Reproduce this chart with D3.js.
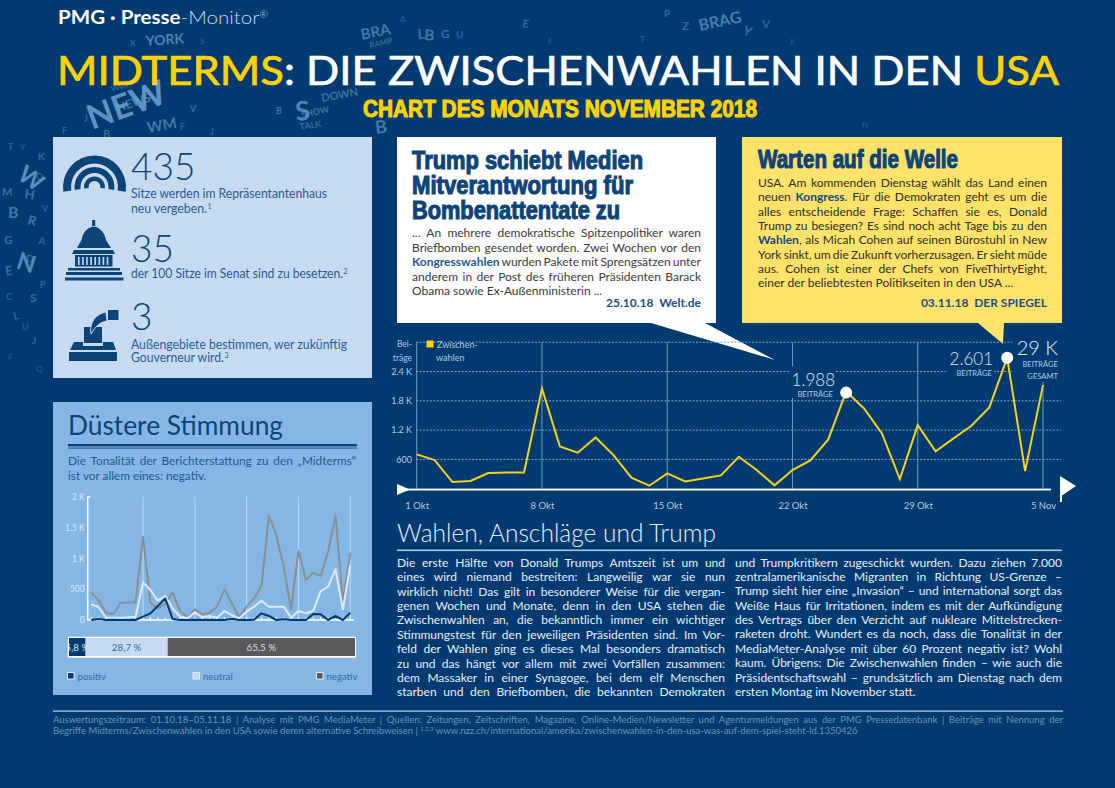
<!DOCTYPE html>
<html lang="de"><head><meta charset="utf-8">
<script src="https://cdn.jsdelivr.net/npm/d3@7"></script>
<style>html,body{margin:0;padding:0;background:#003a70;overflow:hidden}svg{display:block}text{font-family:Lato,"Open Sans",sans-serif}</style>
</head><body><svg id="c" width="1115" height="788"></svg>
<script>
// ---- data ----
const days = d3.range(36);
const totalPosts = [702,586,136,157,320,334,334,2053,866,737,1050,689,225,61,314,150,211,273,655,382,68,382,580,1009,1988,1644,1132,198,1303,764,1030,1289,1664,2680,361,2121];
const negative = [449,324,108,97,281,281,286,1351,281,189,270,449,146,43,173,92,119,216,497,270,43,216,351,551,1686,1378,865,173,1124,649,768,714,1108,1686,297,1092];
const neutral = [254,211,38,38,38,43,54,611,486,313,389,189,54,27,124,43,65,38,146,81,27,135,216,313,216,216,216,38,146,108,151,470,540,822,173,892];
const positive = [0,16,0,5,0,0,0,54,108,227,351,16,0,0,5,0,0,0,0,16,0,0,5,108,65,0,11,0,0,0,97,92,0,65,0,119];
const xTickDays = [0,7,14,21,28,35];
const xTickLabels = ["1 Okt","8 Okt","15 Okt","22 Okt","29 Okt","5 Nov"];
const yTicksMain = [600,1200,1800,2400,3000];
const yTickLabelsMain = ["600","1.2 K","1.8 K","2.4 K",""];
const yTicksTone = [0,500,1000,1500,2000];
const yTickLabelsTone = ["0","500","1 K","1.5 K","2 K"];
const shareNames = ["positiv","neutral","negativ"];
const shareValues = [5.8,28.7,65.5];
const shareLabels = ["5,8 %","28,7 %","65,5 %"];
const peakDays = [24,33];
const peakLabels = ["1.988","2.601"];

const bodyLeft = ["Die erste Hälfte von Donald Trumps Amtszeit ist um und","eines wird niemand bestreiten: Langweilig war sie nun","wirklich nicht! Das gilt in besonderer Weise für die vergan-","genen Wochen und Monate, denn in den USA stehen die","Zwischenwahlen an, die bekanntlich immer ein wichtiger","Stimmungstest für den jeweiligen Präsidenten sind. Im Vor-","feld der Wahlen ging es dieses Mal besonders dramatisch","zu und das hängt vor allem mit zwei Vorfällen zusammen:","dem Massaker in einer Synagoge, bei dem elf Menschen","starben und den Briefbomben, die bekannten Demokraten"];
const bodyRight = ["und Trumpkritikern zugeschickt wurden. Dazu ziehen 7.000","zentralamerikanische Migranten in Richtung US-Grenze –","Trump sieht hier eine „Invasion“ – und international sorgt das","Weiße Haus für Irritationen, indem es mit der Aufkündigung","des Vertrags über den Verzicht auf nukleare Mittelstrecken-","raketen droht. Wundert es da noch, dass die Tonalität in der","MediaMeter-Analyse mit über 60 Prozent negativ ist? Wohl","kaum. Übrigens: Die Zwischenwahlen finden – wie auch die","Präsidentschaftswahl – grundsätzlich am Dienstag nach dem","ersten Montag im November statt."];
const whiteBox = ["... An mehrere demokratische Spitzenpolitiker waren","Briefbomben gesendet worden. Zwei Wochen vor den","**Kongresswahlen** wurden Pakete mit Sprengsätzen unter","anderem in der Post des früheren Präsidenten Barack","Obama sowie Ex-Außenministerin ..."];
const yellowBox = ["USA. Am kommenden Dienstag wählt das Land einen","neuen **Kongress**. Für die Demokraten geht es um die","alles entscheidende Frage: Schaffen sie es, Donald","Trump zu besiegen? Es sind noch acht Tage bis zu den","**Wahlen**, als Micah Cohen auf seinen Bürostuhl in New","York sinkt, um die Zukunft vorherzusagen. Er sieht müde","aus. Cohen ist einer der Chefs von FiveThirtyEight,","einer der beliebtesten Politikseiten in den USA ..."];

// decorative scattered press letters in the page background
const scatter = [["YORK",146,46,14,-4,.7],["X",130,46,8,0,.45],["S",200,44,8,0,.35],["NEW",92,130,34,-20,.85],["NEWS",118,112,12,-18,.6],["WORLD",112,92,8,-20,.45],["B",103,138,11,0,.5],["J",84,122,9,0,.5],["WM",148,133,15,-10,.6],["S",296,121,27,-5,.7],["SHOW",302,118,9,-12,.55],["DOWN",322,102,11,-10,.55],["TALK",300,130,9,-8,.5],["B",276,114,9,0,.55],["V",190,112,9,0,.45],["F",180,130,9,0,.4],["F",62,134,9,0,.4],["J",210,135,9,0,.4],["BRA",362,40,15,-12,.6],["RAMP",370,48,8,-12,.45],["B",376,134,18,-8,.6],["L",418,39,14,-5,.55],["B",424,40,15,5,.6],["G",441,38,12,0,.5],["U",456,38,10,0,.4],["A",400,22,8,0,.35],["E",522,27,11,10,.45],["F",548,44,8,0,.3],["BRAG",700,31,16,-12,.65],["Z",682,30,12,0,.45],["Y",742,34,13,20,.55],["V",762,28,12,0,.4],["P",664,17,10,0,.45],["T",640,42,8,0,.35],["K",790,45,8,0,.3],["N",862,128,8,0,.3],["NEWS",150,134,0,0,0],
["W",16,178,24,35,.8],["N",15,268,24,18,.75],["B",8,218,16,0,.6],["R",27,224,13,15,.6],["E",6,276,13,-10,.5],["K",38,160,10,0,.45],["S",30,302,12,0,.5],["L",14,320,11,-10,.45],["J",32,344,10,0,.45],["T",8,150,9,0,.45],["H",24,198,13,10,.55],["G",4,244,12,0,.5],["A",38,244,10,10,.45],["M",2,196,11,0,.5],["O",36,180,9,0,.45],["D",26,262,10,0,.45],["P",40,288,9,0,.4],["C",6,300,9,0,.4],["U",22,330,9,0,.35],["V",42,212,9,0,.4],["Y",20,150,8,0,.35],["F",8,360,8,0,.3],["Q",36,372,8,0,.3]];

// ---- palette ----
const navy="#003a70", panelLight="#c6daf2", panelBlue="#85b6e4", yellow="#ffe26a", gold="#ffd200", lineGold="#f2d31b", ink="#0d4478", axisTxt="#b4cbe3";

const svg=d3.select("#c");
svg.append("rect").attr("width",1115).attr("height",788).attr("fill",navy);

// background letters
svg.append("g").selectAll("text").data(scatter.filter(d=>d[3]>0)).join("text")
  .attr("transform",d=>`translate(${d[1]},${d[2]}) rotate(${d[4]})`)
  .attr("font-size",d=>d[3]).attr("font-weight",700).attr("fill","#6ea3cf").attr("opacity",d=>d[5]).text(d=>d[0]);

// helpers
function label(sel,x,y,t,o={}){
  const n=sel.append("text").attr("x",x).attr("y",y).attr("font-size",o.size||12).attr("fill",o.fill||"#fff")
    .attr("font-weight",o.weight||400).attr("text-anchor",o.anchor||"start");
  if(o.family)n.style("font-family",o.family);
  if(o.stroke)n.attr("stroke",o.stroke).attr("stroke-width",o.sw||.5);
  if(o.len)n.attr("textLength",o.len).attr("lengthAdjust","spacingAndGlyphs");
  if(t!=null)n.text(t);
  return n;
}
function justified(lines,x,y0,lh,width,o,lastFree){
  lines.forEach((ln,i)=>{
    const n=label(svg,x,y0+i*lh,null,o);
    ln.split(/(\*\*[^*]+\*\*)/).filter(Boolean).forEach(p=>{
      const bold=p.startsWith("**");
      const ts=n.append("tspan").text(bold?p.slice(2,-2):p);
      if(bold)ts.attr("font-weight",700).attr("fill",o.boldFill);
    });
    if(!(lastFree&&i===lines.length-1)){
      const gaps=(ln.match(/ /g)||[]).length, len=n.node().getComputedTextLength();
      if(gaps)n.style("word-spacing",((width-len)/gaps)+"px");
    }
  });
}
const heavy='"Liberation Sans Narrow","Liberation Sans",sans-serif';

// ---- header ----
const brand=label(svg,58,24,null,{size:18.5,weight:700,len:210});
brand.append("tspan").text("PMG · Presse");
brand.append("tspan").attr("font-weight",300).attr("fill","#c6daf2").text("-Monitor");
brand.append("tspan").attr("font-size",9).attr("dy",-6).attr("font-weight",300).attr("fill","#c6daf2").text("®");
const ttl=label(svg,57,85,null,{size:40,weight:400,len:1002});
ttl.append("tspan").attr("fill",gold).attr("stroke",gold).attr("stroke-width",.7).text("MIDTERMS");
ttl.append("tspan").attr("stroke","#fff").attr("stroke-width",.7).text(": DIE ZWISCHENWAHLEN IN DEN ");
ttl.append("tspan").attr("fill",gold).attr("stroke",gold).attr("stroke-width",.7).text("USA");
label(svg,363,117,"CHART DES MONATS NOVEMBER 2018",{size:23,weight:700,fill:gold,family:heavy,stroke:gold,sw:1.1,len:394});

// ---- key figures panel ----
svg.append("rect").attr("x",53).attr("y",137).attr("width",319).attr("height",241).attr("fill",panelLight);
const big={size:37,weight:300,fill:ink}, small={size:12.4,fill:"#2b5c8d"}, sup={size:7,fill:"#2b5c8d"};
label(svg,131,180,"435",big);
label(svg,131,198,"Sitze werden im Repräsentantenhaus",{...small,len:196});
label(svg,131,213,"neu vergeben.",{...small,len:76});
label(svg,207.5,209,"1",sup);
label(svg,131,262,"35",big);
label(svg,131,278,"der 100 Sitze im Senat sind zu besetzen.",{...small,len:212});
label(svg,343.5,274,"2",sup);
label(svg,131,330,"3",big);
label(svg,131,349,"Außengebiete bestimmen, wer zukünftig",{...small,len:216});
label(svg,131,362,"Gouverneur wird.",{...small,len:93});
label(svg,224.5,358,"3",sup);

// icons
const ic=svg.append("g").attr("fill",ink);
const arcGen=d3.arc().startAngle(-1.72).endAngle(1.72);
[[23.5,31.5],[14,20],[6,10.5]].forEach(r=>ic.append("path").attr("transform","translate(94.5,187)")
  .attr("d",arcGen({innerRadius:r[0],outerRadius:r[1]})));
ic.append("path").attr("d","M92.2,220h3v7h-3zM77,248H111L106,240Q104,229 93.7,226Q83,229 81.5,240ZM74,250H113L115,254H72ZM75,255H112.5V266.5H75ZM68,268H120V270.5H68ZM66,272H122V275H66ZM65,277.5H123.5V280.5H65Z");
const gaps=ic.append("g").attr("fill",panelLight);
d3.range(8).forEach(i=>gaps.append("rect").attr("x",78+i*4.1).attr("y",257).attr("width",1.6).attr("height",8));
ic.append("path").attr("d","M108,310H118.5V320H108ZM69,352H117V361H69ZM74,342H83V346H103V342H113L116,350H70ZM84,327H102V343H84Z");
ic.append("path").attr("d","M91,334C89,322 96,314 106,312L107,321C100,322 96,326 91,334Z").attr("stroke",panelLight).attr("stroke-width",1);

// ---- tone panel ----
svg.append("rect").attr("x",53).attr("y",402).attr("width",319).attr("height",293).attr("fill",panelBlue);
label(svg,68,435,"Düstere Stimmung",{size:27,fill:ink,len:215});
svg.append("rect").attr("x",68).attr("y",444).attr("width",289).attr("height",2.4).attr("fill",ink);
svg.append("rect").attr("x",68).attr("y",447.6).attr("width",289).attr("height",.9).attr("fill",ink);
justified(["Die Tonalität der Berichterstattung zu den „Midterms“"],68,465,15,288,{size:11.8,fill:"#1c5a94"});
label(svg,68,480,"ist vor allem eines: negativ.",{size:11.8,fill:"#1c5a94"});

const xTone=d3.scaleLinear().domain([0,35]).range([91.2,350.3]);
const yTone=d3.scaleLinear().domain([0,2000]).range([620,496.7]);
const tone=svg.append("g");
tone.selectAll("line.g").data(xTickDays.slice(1)).join("line").attr("x1",xTone).attr("x2",xTone).attr("y1",496.7).attr("y2",620).attr("stroke","#b9d4ee").attr("stroke-width",1.2);
const axL=tone.append("g").attr("transform","translate(87.7,0)").call(d3.axisLeft(yTone).tickValues(yTicksTone).tickSize(0).tickFormat((d,i)=>yTickLabelsTone[i]));
axL.select(".domain").remove();
axL.selectAll("text").attr("fill","#d9e8f7").attr("font-size",8.5).attr("x",-3);
tone.append("path").attr("d",`M90.5,497H87.7V620H354`).attr("fill","none").attr("stroke","#fff").attr("stroke-width",1.4);
tone.append("g").selectAll("line").data(days).join("line").attr("x1",xTone).attr("x2",xTone).attr("y1",620).attr("y2",617).attr("stroke","#fff").attr("stroke-width",1);
const lineTone=d3.line().x((d,i)=>xTone(i)).y(d=>yTone(d));
[[negative,"#8a9095"],[neutral,"#dcebf9"],[positive,navy]].forEach(s=>tone.append("path").attr("d",lineTone(s[0])).attr("fill","none").attr("stroke",s[1]).attr("stroke-width",2).attr("stroke-linejoin","round"));

// stacked share bar
const xShare=d3.scaleLinear().domain([0,100]).range([69,355]);
const shareCol=[navy,panelLight,"#58595b"], shareTxt=["#dce9f6","#3a6ea3","#d9dde2"];
svg.append("rect").attr("x",67.7).attr("y",636.7).attr("width",288.3).attr("height",21).attr("fill","#fff");
const starts=d3.cumsum([0,...shareValues]);
svg.append("clipPath").attr("id","bar").append("rect").attr("x",69).attr("y",638).attr("width",286).attr("height",18);
const sg=svg.append("g").attr("clip-path","url(#bar)");
shareValues.forEach((v,i)=>{
  sg.append("rect").attr("x",xShare(starts[i])).attr("y",638).attr("width",xShare(v)-xShare(0)).attr("height",18).attr("fill",shareCol[i]);
  label(sg,xShare(starts[i]+v/2),650.5,shareLabels[i],{size:9.8,fill:shareTxt[i],anchor:"middle"});
});
const legX=[70.5,196,319.5];
shareNames.forEach((n,i)=>{
  svg.append("rect").attr("x",legX[i]-3).attr("y",672.5).attr("width",6.5).attr("height",6.5).attr("fill",shareCol[i]).attr("stroke","#dce9f6").attr("stroke-width",1);
  label(svg,legX[i]+7,679.5,n,{size:9.6,fill:"#2f6aa5"});
});

// ---- speech boxes ----
svg.append("path").attr("d","M397,137H716V323H705L775,360L651,323H397Z").attr("fill","#fff");
svg.append("path").attr("d","M742,137H1062V323H1004L1003,344L978,323H742Z").attr("fill",yellow);
const hd={size:25,weight:700,fill:ink,family:heavy,stroke:ink,sw:1.1};
label(svg,412,169,"Trump schiebt Medien",{...hd,len:231});
label(svg,412,194,"Mitverantwortung für",{...hd,len:221});
label(svg,412,219,"Bombenattentate zu",{...hd,len:208});
label(svg,758,168,"Warten auf die Welle",{...hd,len:200});
justified(whiteBox,412,237,14.5,289,{size:12,fill:"#3a3a3a",boldFill:"#1c5a94"},true);
justified(yellowBox,758,187,14.3,289,{size:12,fill:"#2e2e24",boldFill:"#14497e"},true);
label(svg,701,307,"25.10.18  Welt.de",{size:12,weight:700,fill:"#1c4f80",anchor:"end"}).style("white-space","pre");
label(svg,1047,307,"03.11.18  DER SPIEGEL",{size:12,weight:700,fill:"#1c4f80",anchor:"end"}).style("white-space","pre");

// ---- main line chart ----
const x=d3.scaleLinear().domain([0,35]).range([416.7,1043]);
const y=d3.scaleLinear().domain([0,3000]).range([488.7,342.2]);
const main=svg.append("g");
main.append("g").selectAll("line").data(yTicksMain).join("line").attr("x1",416).attr("x2",1061).attr("y1",y).attr("y2",y)
  .attr("stroke","#7ea4c9").attr("stroke-width",1).attr("stroke-dasharray","2 1.5");
main.append("g").selectAll("line").data(xTickDays).join("line").attr("x1",x).attr("x2",x).attr("y1",342.2).attr("y2",488.7)
  .attr("stroke","#6f9ac4").attr("stroke-width",1);
// clear the gridlines behind the annotations
[[790,366,46,32],[948,345,46,33],[1012,340,50,42]].forEach(r=>main.append("rect").attr("x",r[0]).attr("y",r[1]).attr("width",r[2]).attr("height",r[3]).attr("fill",navy));
const ayl=main.append("g").attr("transform","translate(412,0)").call(d3.axisLeft(y).tickValues(yTicksMain).tickSize(0).tickFormat((d,i)=>yTickLabelsMain[i]));
ayl.select(".domain").remove();
ayl.selectAll("text").attr("fill",axisTxt).attr("font-size",9).attr("x",0);
const axb=main.append("g").attr("transform","translate(0,489.7)").call(d3.axisBottom(x).tickValues(xTickDays).tickSize(0).tickFormat((d,i)=>xTickLabels[i]));
axb.select(".domain").remove();
axb.selectAll("text").attr("fill",axisTxt).attr("font-size",9.5).attr("y",13);
main.append("rect").attr("x",405).attr("y",488.6).attr("width",646).attr("height",1.9).attr("fill","#fff");
main.append("path").attr("d","M397,484L410,489.5L397,495Z").attr("fill","#fff");
main.append("path").attr("d","M1060,476V502H1062V495.5L1076,486Z").attr("fill","#fff");
main.append("path").attr("d",d3.line().x((d,i)=>x(i)).y(d=>y(d))(totalPosts)).attr("fill","none").attr("stroke",lineGold).attr("stroke-width",2).attr("stroke-linejoin","miter");
main.selectAll("circle").data(peakDays).join("circle").attr("cx",d=>x(d)).attr("cy",d=>y(totalPosts[d])+(d===24?1:0)).attr("r",6).attr("fill","#fff");
svg.append("rect").attr("x",426.5).attr("y",340.5).attr("width",7).attr("height",7).attr("fill",gold);
label(svg,437,348,"Zwischen-",{size:9,fill:axisTxt});
label(svg,436,361,"wahlen",{size:9,fill:axisTxt});
label(svg,412,347,"Bei-",{size:8.5,fill:axisTxt,anchor:"end"});
label(svg,412,361,"träge",{size:8.5,fill:axisTxt,anchor:"end"});
label(svg,835,386,peakLabels[0],{size:17,weight:300,fill:"#dbe8f5",anchor:"end"});
label(svg,833,396.5,"BEITRÄGE",{size:7.6,fill:axisTxt,anchor:"end"});
label(svg,993,365,peakLabels[1],{size:17,weight:300,fill:"#dbe8f5",anchor:"end"});
label(svg,992,375.5,"BEITRÄGE",{size:7.6,fill:axisTxt,anchor:"end"});
label(svg,1058,355,"29 K",{size:20,weight:300,fill:"#e6eff8",anchor:"end"});
label(svg,1058,367,"BEITRÄGE",{size:7.6,fill:axisTxt,anchor:"end"});
label(svg,1058,379,"GESAMT",{size:7.6,fill:axisTxt,anchor:"end"});

// ---- article ----
label(svg,397,542,"Wahlen, Anschläge und Trump",{size:25,weight:300,fill:"#e4eef8",len:319});
svg.append("rect").attr("x",397).attr("y",549.5).attr("width",665).attr("height",1.6).attr("fill","#a9c6e3");
justified(bodyLeft,397,566.7,14.4,328,{size:12,fill:"#e8f0f8"},false);
justified(bodyRight,735,566.7,14.35,327,{size:12,fill:"#e8f0f8"},true);

// ---- footer ----
svg.append("rect").attr("x",53).attr("y",710.5).attr("width",1010).attr("height",1.2).attr("fill","#b8cfe6");
justified(["Auswertungszeitraum: 01.10.18–05.11.18 | Analyse mit PMG MediaMeter | Quellen: Zeitungen, Zeitschriften, Magazine, Online-Medien/Newsletter und Agenturmeldungen aus der PMG Pressedatenbank | Beiträge mit Nennung der"],53,723,12,1010,{size:9.5,fill:"#6f94b9"},false);
const f2=label(svg,53,734,null,{size:9.5,fill:"#6f94b9"});
f2.append("tspan").text("Begriffe Midterms/Zwischenwahlen in den USA sowie deren alternative Schreibweisen | ");
f2.append("tspan").attr("font-size",6).attr("dy",-3).text("1,2,3");
f2.append("tspan").attr("dy",3).text(" www.nzz.ch/international/amerika/zwischenwahlen-in-den-usa-was-auf-dem-spiel-steht-ld.1350426");
</script></body></html>
